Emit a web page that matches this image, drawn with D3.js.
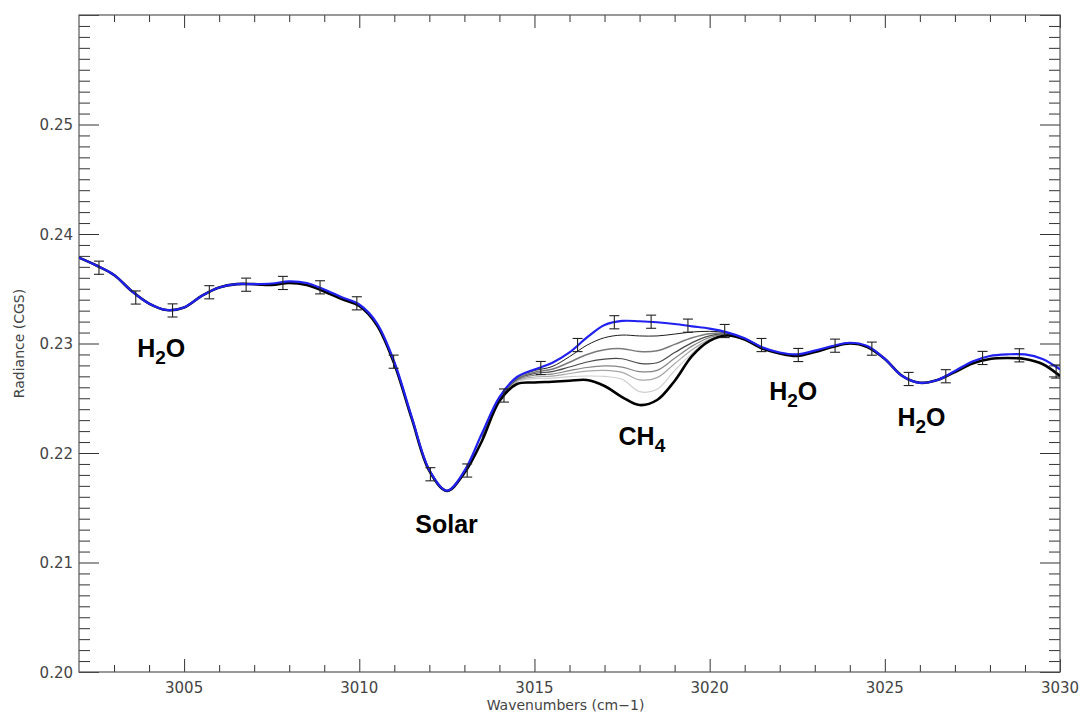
<!DOCTYPE html>
<html><head><meta charset="utf-8">
<script src="https://cdn.jsdelivr.net/npm/d3@7"></script>
<style>html,body{margin:0;padding:0;background:#fff;}svg{display:block;}</style>
</head><body>
<svg id="chart" width="1080" height="713"></svg>
<script>
// ---------- data ----------
const wavenumber = [3002.0,3002.5,3003.0,3003.5,3004.0,3004.5,3005.0,3005.5,3006.0,3006.5,3007.0,3007.5,3008.0,3008.5,3009.0,3009.5,3010.0,3010.5,3011.0,3011.5,3012.0,3012.5,3013.0,3013.5,3014.0,3014.5,3015.0,3015.5,3016.0,3016.5,3017.0,3017.5,3018.0,3018.5,3019.0,3019.5,3020.0,3020.5,3021.0,3021.5,3022.0,3022.5,3023.0,3023.5,3024.0,3024.5,3025.0,3025.5,3026.0,3026.5,3027.0,3027.5,3028.0,3028.5,3029.0,3029.5,3030.0];
const radianceNoCH4 = [0.23784,0.23712,0.23626,0.23480,0.23365,0.23306,0.23329,0.23434,0.23511,0.23542,0.23542,0.23548,0.23568,0.23553,0.23493,0.23422,0.23356,0.23187,0.22831,0.22326,0.21845,0.21656,0.21836,0.22178,0.22511,0.22694,0.22763,0.22822,0.22918,0.23055,0.23169,0.23206,0.23203,0.23194,0.23178,0.23157,0.23136,0.23102,0.23048,0.22965,0.22918,0.22901,0.22935,0.22977,0.23007,0.22977,0.22859,0.22703,0.22641,0.22667,0.22749,0.22836,0.22886,0.22901,0.22900,0.22859,0.22763];
const radianceMaxCH4 = [0.23784,0.23712,0.23626,0.23480,0.23365,0.23306,0.23329,0.23434,0.23511,0.23542,0.23542,0.23534,0.23553,0.23534,0.23475,0.23406,0.23343,0.23169,0.22813,0.22311,0.21836,0.21653,0.21817,0.22110,0.22475,0.22630,0.22644,0.22651,0.22660,0.22667,0.22612,0.22511,0.22438,0.22484,0.22658,0.22886,0.23023,0.23073,0.23037,0.22954,0.22909,0.22886,0.22922,0.22968,0.23000,0.22968,0.22859,0.22703,0.22641,0.22667,0.22740,0.22817,0.22859,0.22868,0.22859,0.22813,0.22703];

// intermediate CH4 amounts, only where they separate from the outer curves
const wavenumberCH4 = [3013.5,3014.0,3014.5,3015.0,3015.5,3016.0,3016.5,3017.0,3017.5,3018.0,3018.5,3019.0,3019.5,3020.0,3020.5,3021.0,3021.5];
const radianceCH4a = [0.22174,0.22509,0.22690,0.22753,0.22789,0.22880,0.22985,0.23053,0.23077,0.23069,0.23069,0.23086,0.23105,0.23111,0.23098,0.23046,0.22964];
const radianceCH4b = [0.22164,0.22504,0.22681,0.22738,0.22765,0.22829,0.22900,0.22943,0.22953,0.22926,0.22933,0.22992,0.23052,0.23089,0.23093,0.23044,0.22962];
const radianceCH4c = [0.22155,0.22500,0.22674,0.22726,0.22743,0.22785,0.22831,0.22858,0.22861,0.22819,0.22824,0.22917,0.23008,0.23069,0.23089,0.23043,0.22960];
const radianceCH4d = [0.22146,0.22495,0.22666,0.22711,0.22721,0.22752,0.22781,0.22795,0.22785,0.22743,0.22755,0.22865,0.22976,0.23055,0.23084,0.23041,0.22959];
const radianceCH4e = [0.22137,0.22490,0.22658,0.22694,0.22702,0.22726,0.22748,0.22755,0.22737,0.22668,0.22688,0.22815,0.22943,0.23038,0.23080,0.23039,0.22957];
const radianceCH4f = [0.22128,0.22486,0.22649,0.22680,0.22683,0.22697,0.22703,0.22699,0.22673,0.22561,0.22582,0.22753,0.22910,0.23029,0.23078,0.23038,0.22955];

// observations with error bars
const obsWavenumber = [3002.57,3003.62,3004.67,3005.72,3006.77,3007.82,3008.88,3009.93,3010.98,3012.03,3013.08,3014.13,3015.18,3016.23,3017.28,3018.33,3019.38,3020.43,3021.48,3022.53,3023.58,3024.63,3025.68,3026.74,3027.79,3028.84,3029.89];
const obsRadiance = [0.23692,0.23420,0.23302,0.23468,0.23537,0.23553,0.23513,0.23367,0.22834,0.21806,0.21840,0.22525,0.22776,0.22986,0.23194,0.23199,0.23163,0.23114,0.22986,0.22895,0.22980,0.22953,0.22676,0.22701,0.22868,0.22892,0.22744];
const obsError = [0.0006,0.0006,0.0006,0.0006,0.0006,0.0006,0.0006,0.0006,0.0006,0.0006,0.0006,0.0006,0.0006,0.0006,0.0006,0.0006,0.0006,0.0006,0.0006,0.0006,0.0006,0.0006,0.0006,0.0006,0.0006,0.0006,0.0006];

const xTickLabels = [3005, 3010, 3015, 3020, 3025, 3030];
const yTickLabels = [0.20, 0.21, 0.22, 0.23, 0.24, 0.25];
const xTitle = "Wavenumbers (cm\u22121)";
const yTitle = "Radiance (CGS)";
const annotations = [
  {main: "H", sub: "2", tail: "O", x: 3003.66, y: 0.22877},
  {main: "Solar", sub: "", tail: "", x: 3011.6, y: 0.21270},
  {main: "CH", sub: "4", tail: "", x: 3017.4, y: 0.22073},
  {main: "H", sub: "2", tail: "O", x: 3021.7, y: 0.22484},
  {main: "H", sub: "2", tail: "O", x: 3025.36, y: 0.22243}
];

// ---------- layout ----------
const m = {left: 79, top: 15, right: 1060, bottom: 672};
const svg = d3.select("#chart");
const x = d3.scaleLinear().domain([3002, 3030]).range([m.left, m.right]);
const y = d3.scaleLinear().domain([0.20, 0.26]).range([m.bottom, m.top]);

svg.append("defs").append("clipPath").attr("id", "clip")
  .append("rect").attr("x", m.left).attr("y", m.top)
  .attr("width", m.right - m.left).attr("height", m.bottom - m.top);

const tickCol = "#333";
const labelFont = "'DejaVu Sans', sans-serif";

// axes: bottom / top
const xMajor = d3.range(3005, 3031, 5);
const xMinor = d3.range(3003, 3030, 1).filter(v => v % 5 !== 0);
svg.append("g").attr("transform", `translate(0,${m.bottom})`)
  .call(d3.axisTop(x).tickValues(xMinor).tickSize(7).tickFormat(""));
svg.append("g").attr("transform", `translate(0,${m.bottom})`)
  .call(d3.axisTop(x).tickValues(xMajor).tickSize(13).tickFormat(""));
svg.append("g").attr("transform", `translate(0,${m.top})`)
  .call(d3.axisBottom(x).tickValues(xMinor).tickSize(7).tickFormat(""));
svg.append("g").attr("transform", `translate(0,${m.top})`)
  .call(d3.axisBottom(x).tickValues(xMajor).tickSize(13).tickFormat(""));

const yMinor = d3.range(201, 260, 1).filter(v => v % 10 !== 0).map(v => v / 1000);
const yMajor = d3.range(20, 27, 1).map(v => v / 100);
svg.append("g").attr("transform", `translate(${m.left},0)`)
  .call(d3.axisRight(y).tickValues(yMinor).tickSize(11).tickFormat(""));
svg.append("g").attr("transform", `translate(${m.left},0)`)
  .call(d3.axisRight(y).tickValues(yMajor).tickSize(20).tickFormat(""));
svg.append("g").attr("transform", `translate(${m.right},0)`)
  .call(d3.axisLeft(y).tickValues(yMinor).tickSize(11).tickFormat(""));
svg.append("g").attr("transform", `translate(${m.right},0)`)
  .call(d3.axisLeft(y).tickValues(yMajor).tickSize(20).tickFormat(""));

svg.selectAll(".domain").remove();
svg.selectAll(".tick line").attr("stroke", tickCol).attr("stroke-width", 1);

// frame
svg.append("rect").attr("x", m.left).attr("y", m.top)
  .attr("width", m.right - m.left).attr("height", m.bottom - m.top)
  .attr("fill", "none").attr("stroke", "#555").attr("stroke-width", 1.2);

// tick labels
svg.append("g").selectAll("text").data(yTickLabels).join("text")
  .attr("x", m.left - 6).attr("y", d => y(d) + 5.5)
  .attr("text-anchor", "end").attr("font-family", labelFont).attr("font-size", 15)
  .attr("fill", "#444").text(d => d3.format(".2f")(d));
svg.append("g").selectAll("text").data(xTickLabels).join("text")
  .attr("x", d => x(d)).attr("y", m.bottom + 21)
  .attr("text-anchor", "middle").attr("font-family", labelFont).attr("font-size", 15)
  .attr("fill", "#444").text(d => d);

// axis titles
svg.append("text").attr("x", (m.left + m.right) / 2 - 4).attr("y", 710)
  .attr("text-anchor", "middle").attr("font-family", labelFont).attr("font-size", 14)
  .attr("fill", "#444").text(xTitle);
svg.append("text").attr("transform", `translate(24,${(m.top + m.bottom) / 2}) rotate(-90)`)
  .attr("text-anchor", "middle").attr("font-family", labelFont).attr("font-size", 14)
  .attr("fill", "#444").text(yTitle);

// curves
const plot = svg.append("g").attr("clip-path", "url(#clip)");
const line = d3.line().x(d => x(d[0])).y(d => y(d[1])).curve(d3.curveCatmullRom.alpha(0.5));
const zipped = (xs, ys) => xs.map((v, i) => [v, ys[i]]);

const intermediates = [
  {data: radianceCH4f, color: "#cfcfcf", w: 1.2},
  {data: radianceCH4e, color: "#a8a8a8", w: 1.2},
  {data: radianceCH4d, color: "#858585", w: 1.2},
  {data: radianceCH4c, color: "#4a4a4a", w: 1.2},
  {data: radianceCH4b, color: "#7a7a7a", w: 1.5},
  {data: radianceCH4a, color: "#1e1e1e", w: 1.0}
];
intermediates.forEach(s => {
  plot.append("path").attr("d", line(zipped(wavenumberCH4, s.data)))
    .attr("fill", "none").attr("stroke", s.color).attr("stroke-width", s.w);
});
plot.append("path").attr("d", line(zipped(wavenumber, radianceMaxCH4)))
  .attr("fill", "none").attr("stroke", "#000").attr("stroke-width", 2.6);
plot.append("path").attr("d", line(zipped(wavenumber, radianceNoCH4)))
  .attr("fill", "none").attr("stroke", "#2020f0").attr("stroke-width", 2.2);

// error bars
const eb = plot.append("g").attr("stroke", "#222").attr("stroke-width", 1.1);
obsWavenumber.forEach((w, i) => {
  const cx = x(w), y1 = y(obsRadiance[i] + obsError[i]), y0 = y(obsRadiance[i] - obsError[i]);
  eb.append("line").attr("x1", cx).attr("x2", cx).attr("y1", y1).attr("y2", y0);
  eb.append("line").attr("x1", cx - 5).attr("x2", cx + 5).attr("y1", y1).attr("y2", y1);
  eb.append("line").attr("x1", cx - 5).attr("x2", cx + 5).attr("y1", y0).attr("y2", y0);
});

// annotations
const ann = svg.append("g").attr("font-family", "'Liberation Sans', Arial, sans-serif")
  .attr("font-weight", "bold").attr("fill", "#000");
annotations.forEach(a => {
  const t = ann.append("text").attr("x", x(a.x)).attr("y", y(a.y)).attr("font-size", 25);
  t.append("tspan").text(a.main);
  if (a.sub) t.append("tspan").attr("font-size", 19).attr("dy", 7).text(a.sub);
  if (a.tail) t.append("tspan").attr("dy", -7).text(a.tail);
});
</script>
</body></html>
